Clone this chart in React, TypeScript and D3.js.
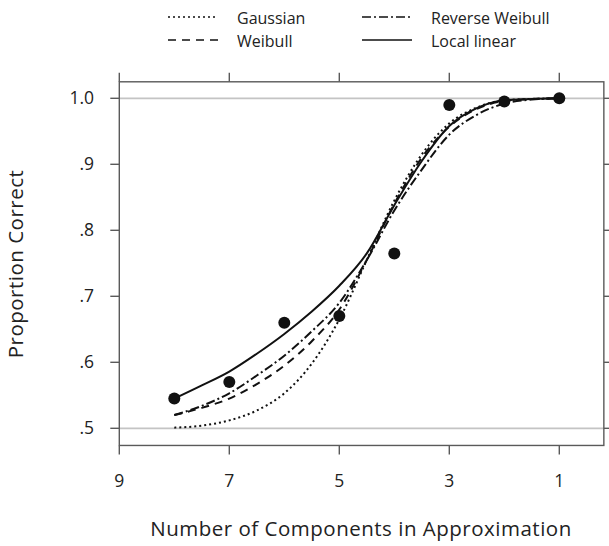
import * as d3 from 'd3';

// observed proportion correct per number of components
const components = [8, 7, 6, 5, 4, 3, 2, 1];
const observed = [0.545, 0.57, 0.66, 0.67, 0.765, 0.99, 0.995, 1.0];

// fitted curves, every half component
const curveX = [8, 7.5, 7, 6.5, 6, 5.5, 5, 4.5, 4, 3.5, 3, 2.5, 2, 1.5, 1];
const gaussian = [0.501, 0.504, 0.512, 0.527, 0.553, 0.598, 0.665, 0.755, 0.845, 0.915, 0.962, 0.986, 0.997, 0.999, 1.0];
const weibull = [0.52, 0.531, 0.545, 0.567, 0.595, 0.632, 0.68, 0.755, 0.84, 0.91, 0.957, 0.984, 0.996, 0.999, 1.0];
const reverseWeibull = [0.52, 0.534, 0.553, 0.58, 0.61, 0.647, 0.69, 0.755, 0.83, 0.892, 0.945, 0.975, 0.992, 0.998, 1.0];
const localLinear = [0.545, 0.565, 0.586, 0.613, 0.643, 0.677, 0.716, 0.765, 0.838, 0.905, 0.958, 0.985, 0.997, 0.999, 1.0];

const xTicks = [9, 7, 5, 3, 1];
const yTicks = [1.0, 0.9, 0.8, 0.7, 0.6, 0.5];
const yTickLabels = ['1.0', '.9', '.8', '.7', '.6', '.5'];
const gridValues = [1.0, 0.5];

const series = [
  { name: 'Gaussian', values: gaussian, dash: '2,3' },
  { name: 'Weibull', values: weibull, dash: '8,6' },
  { name: 'Reverse Weibull', values: reverseWeibull, dash: '9,3,2,3' },
  { name: 'Local linear', values: localLinear, dash: null as string | null },
];

const font = '"Open Sans", "DejaVu Sans", sans-serif';
const axisColor = '#5a5a5a';

export default function App() {
  const width = 609;
  const height = 546;

  const x = d3.scaleLinear().domain([9, 1]).range([119.3, 559.3]);
  const y = d3.scaleLinear().domain([0.5, 1.0]).range([428.3, 98.3]);

  // frame extends a little past the data range
  const left = x(9);
  const right = x(0.19);
  const top = y(1.025);
  const bottom = y(0.474);
  const tickLen = 9;

  const line = d3
    .line<number>()
    .x((_, i) => x(curveX[i]))
    .y((d) => y(d))
    .curve(d3.curveMonotoneX);

  const legendRows = [
    { s: series[0], lx: 168, ty: 0 },
    { s: series[1], lx: 168, ty: 1 },
    { s: series[2], lx: 362, ty: 0 },
    { s: series[3], lx: 362, ty: 1 },
  ];

  return (
    <svg
      width={width}
      height={height}
      style={{ position: 'absolute', left: 0, top: 0, background: '#fff' }}
      fontFamily={font}
    >
      {/* legend */}
      {legendRows.map(({ s, lx, ty }) => {
        const ly = 17 + ty * 23;
        return (
          <g key={s.name}>
            <line
              x1={lx}
              x2={lx + 50}
              y1={ly}
              y2={ly}
              stroke="#111"
              strokeWidth={1.4}
              strokeDasharray={s.dash ?? undefined}
            />
            <text x={lx + 69} y={ly + 7} fontSize={16} fill="#222">
              {s.name}
            </text>
          </g>
        );
      })}

      {/* reference lines */}
      {gridValues.map((g) => (
        <line key={g} x1={left} x2={right} y1={y(g)} y2={y(g)} stroke="#c4c4c4" strokeWidth={1.8} />
      ))}

      {/* frame */}
      <rect
        x={left}
        y={top}
        width={right - left}
        height={bottom - top}
        fill="none"
        stroke={axisColor}
        strokeWidth={1.4}
      />

      {/* ticks */}
      {yTicks.map((t, i) => (
        <g key={`y${t}`}>
          <line x1={left - tickLen} x2={left} y1={y(t)} y2={y(t)} stroke={axisColor} strokeWidth={1.4} />
          <line x1={right} x2={right + tickLen} y1={y(t)} y2={y(t)} stroke={axisColor} strokeWidth={1.4} />
          <text x={94} y={y(t) + 6} textAnchor="end" fontSize={17.5} fill="#222">
            {yTickLabels[i]}
          </text>
        </g>
      ))}
      {xTicks.map((t) => (
        <g key={`x${t}`}>
          <line x1={x(t)} x2={x(t)} y1={bottom} y2={bottom + tickLen} stroke={axisColor} strokeWidth={1.4} />
          <line x1={x(t)} x2={x(t)} y1={top - tickLen} y2={top} stroke={axisColor} strokeWidth={1.4} />
          <text x={x(t)} y={487} textAnchor="middle" fontSize={17.5} fill="#222">
            {t}
          </text>
        </g>
      ))}

      {/* fitted curves */}
      {series.map((s) => (
        <path
          key={s.name}
          d={line(s.values) ?? ''}
          fill="none"
          stroke="#111"
          strokeWidth={2}
          strokeDasharray={s.dash ?? undefined}
        />
      ))}

      {/* observed points */}
      {components.map((c, i) => (
        <circle key={c} cx={x(c)} cy={y(observed[i])} r={6} fill="#111" />
      ))}

      {/* axis titles */}
      <text x={361} y={536} textAnchor="middle" fontSize={20.5} letterSpacing={0.5} fill="#222">
        Number of Components in Approximation
      </text>
      <text
        transform={`translate(23,264) rotate(-90)`}
        textAnchor="middle"
        fontSize={20.5}
        letterSpacing={0.5}
        fill="#222"
      >
        Proportion Correct
      </text>
    </svg>
  );
}
